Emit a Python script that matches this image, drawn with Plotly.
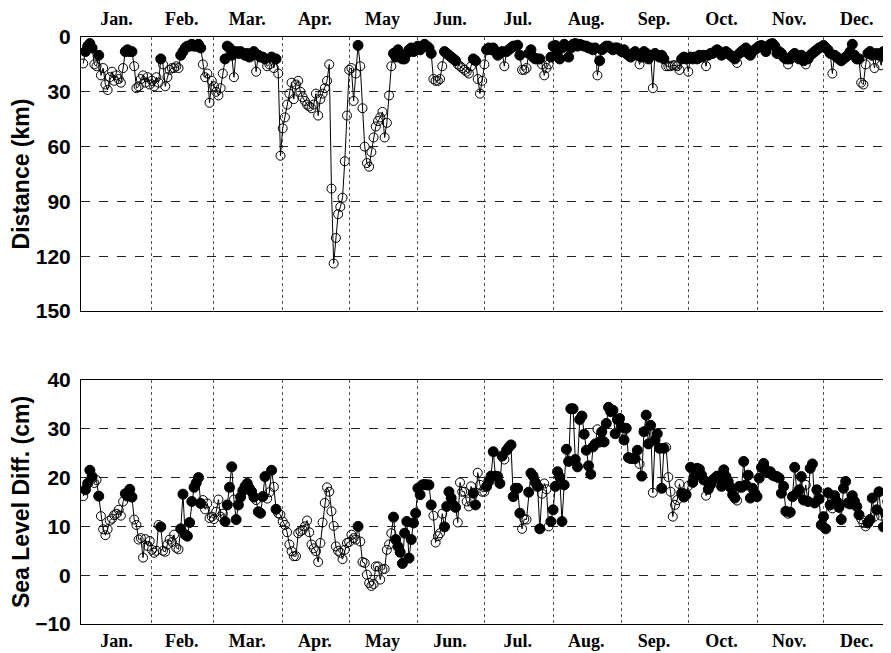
import plotly.graph_objects as go

# ---------------- data (day-of-year 1..365) ----------------
months = ["Jan.", "Feb.", "Mar.", "Apr.", "May", "Jun.",
          "Jul.", "Aug.", "Sep.", "Oct.", "Nov.", "Dec."]
month_lengths = [31, 28, 31, 30, 31, 30, 31, 31, 30, 31, 30, 31]

# Distance (km), one value per day, by month
dist_jan = [14.5, 8, 5, 3.6, 6, 15, 16, 10, 21, 17, 26, 29, 22, 19, 24, 21, 23, 25, 17, 8,
            7, 8, 8, 16, 28, 27, 23, 21, 25, 22, 26]
dist_feb = [24, 27, 22, 25, 12, 15, 27, 22, 18, 17, 17, 16, 17, 10, 8, 6, 5, 5, 4, 5,
            5, 4, 6, 15, 22, 20, 36, 24]
dist_mar = [27, 30, 32, 28, 20, 12, 5, 6, 10, 22, 8, 9, 8, 9, 10, 9, 11, 10, 8, 19,
            10, 11, 11, 12, 16, 15, 11, 17, 12, 20, 65]
dist_apr = [50, 44, 37, 31, 25, 34, 26, 24, 30, 33, 35, 37, 38, 39, 37, 31, 43, 34, 31, 28,
            24, 15, 83, 124, 110, 97, 93, 88, 68, 43]
dist_may = [18, 17, 35, 20, 4.6, 16, 39, 60, 69, 71, 63, 55, 49, 46, 44, 41, 55, 47, 32, 16,
            9, 11, 7, 10, 12, 12, 9, 7, 6, 8, 6]
dist_jun = [5, 7, 5, 4, 5, 6, 9, 23, 24, 24, 23, 16, 8, 9, 10, 11, 12, 13, 15, 16,
            17, 18, 19, 20, 16, 12, 13, 23, 31, 24]
dist_jul = [15, 7, 6, 7, 6, 8, 10, 9, 8, 16, 8, 7, 6, 5, 5, 4.5, 10, 18, 18, 17,
            9, 7, 11, 12, 12, 12, 15, 21, 17, 15, 11]
dist_aug = [5, 4.6, 8, 12, 6, 4, 5, 11, 6, 4, 3.6, 5, 4, 4.5, 5, 5, 6, 6, 7, 6,
            21, 13, 7, 6, 5, 5, 6, 7, 6, 6, 7]
dist_sep = [8, 7, 9, 10, 11, 9, 8, 10, 15, 11, 8, 9, 12, 10, 28, 9, 10, 11, 10, 12,
            16, 16, 16, 15.5, 15.5, 16, 18, 12, 11, 12]
dist_oct = [19, 11, 12, 11, 12, 10, 11, 10, 16, 10, 9, 9, 8, 7, 8, 10, 9, 8, 9, 10,
            11, 12, 14.2, 9, 8, 7, 6, 9, 10, 8, 7]
dist_nov = [6, 5, 4.6, 6, 8, 5, 4, 3.6, 5, 9, 8, 9, 11, 12, 15, 12, 10, 9, 11, 12,
            10, 13, 15, 12, 10, 9, 8, 7, 6, 5.5]
dist_dec = [4.6, 6, 7, 9, 20, 10, 11, 12, 13, 12, 11, 10, 8, 4, 10, 12, 12, 25, 26, 15,
            9, 8, 10, 17, 9, 10, 15.5, 8, 11, 9, 10]

# Sea level difference (cm), one value per day, by month
sea_jan = [16.2, 17.5, 18.8, 21.5, 20.2, 18.9, 19.5, 16.2, 12.1, 9.4, 8.2, 9.4, 11.2, 11.6, 12.3,
           12.6, 13.4, 12.2, 15.1, 16.7, 16.2, 17.6, 16.0, 11.4, 10.3, 7.3, 7.6, 3.6, 7.4, 6.0, 7.0]
sea_feb = [5.2, 4.6, 5.0, 10.3, 9.9, 5.0, 4.8, 6.3, 7.3, 6.8, 8.3, 5.6, 5.3, 9.5, 16.6,
           8.3, 8.0, 10.8, 15.1, 18.0, 18.9, 20.0, 14.7, 15.4, 13.5, 14.7, 11.7, 12.0]
sea_mar = [11.5, 13.0, 15.5, 12.0, 12.6, 11.0, 14.4, 18.0, 22.2, 15.5, 11.4, 14.4, 16.0, 17.3, 18.2,
           18.8, 17.8, 17.1, 16.0, 15.4, 13.0, 12.7, 16.1, 20.2, 15.7, 17.0, 21.5, 18.1, 13.5, 12.7, 12.4]
sea_apr = [11.0, 10.3, 8.8, 6.3, 4.9, 3.9, 3.9, 8.6, 9.0, 9.3, 10.0, 11.2, 8.8, 6.3, 5.5,
           4.9, 2.7, 6.6, 10.8, 14.8, 18.0, 17.1, 13.1, 10.1, 5.9, 5.0, 4.6, 3.3, 5.2, 6.6]
sea_may = [6.8, 8.3, 7.6, 7.3, 10.0, 6.9, 2.7, 2.5, 0.1, -1.6, -2.2, -1.8, 1.8, 1.8, -0.9,
           1.2, 1.3, 5.2, 6.3, 8.6, 11.9, 7.3, 5.9, 4.7, 2.4, 8.6, 11.0, 3.5, 7.3, 10.7, 12.7]
sea_jun = [17.8, 16.5, 18.5, 18.6, 18.5, 18.5, 14.4, 12.2, 6.7, 8.0, 8.6, 12.6, 9.9, 14.1, 17.1,
           15.8, 14.4, 13.9, 10.8, 19.0, 17.1, 17.1, 15.1, 14.1, 18.2, 16.8, 14.4, 21.0, 18.5, 17.1]
sea_jul = [17.1, 18.2, 19.2, 20.3, 25.3, 20.3, 20.2, 18.8, 24.4, 23.7, 25.6, 26.2, 26.7, 16.1, 17.8,
           17.8, 12.7, 9.5, 11.5, 11.4, 17.0, 20.9, 20.3, 19.0, 18.2, 9.5, 16.7, 18.8, 17.6, 10.0, 11.0]
sea_aug = [13.4, 18.2, 21.2, 20.1, 11.0, 18.5, 25.8, 23.3, 34.1, 34.1, 23.7, 22.2, 31.9, 32.6, 28.9,
           25.6, 22.4, 20.7, 26.3, 26.9, 29.9, 27.3, 29.4, 27.3, 31.1, 34.4, 33.5, 33.8, 29.0, 31.9, 32.1]
sea_sep = [30.3, 27.7, 30.1, 24.1, 23.9, 23.9, 23.9, 25.6, 22.8, 20.3, 29.4, 32.8, 26.9, 30.7, 16.9,
           27.7, 29.0, 26.0, 17.8, 26.0, 26.2, 20.1, 17.1, 12.0, 14.4, 15.4, 18.7, 16.8, 16.0, 16.5]
sea_oct = [18.3, 22.1, 19.0, 20.3, 21.9, 21.7, 20.5, 19.5, 16.3, 17.6, 18.5, 19.5, 19.9, 20.3, 19.9,
           18.2, 21.6, 20.2, 19.2, 18.0, 16.5, 15.8, 15.3, 18.2, 18.0, 23.3, 18.5, 20.5, 15.8, 17.8, 16.8]
sea_nov = [16.1, 19.9, 22.1, 22.9, 21.6, 21.0, 21.2, 20.5, 20.3, 20.2, 19.9, 16.8, 18.2, 13.1, 12.6,
           12.9, 16.1, 22.1, 16.8, 17.5, 20.2, 15.4, 18.5, 15.1, 21.9, 22.8, 14.8, 17.5, 15.6, 10.3]
sea_dec = [12.0, 9.5, 16.9, 14.4, 13.7, 16.3, 15.1, 13.9, 11.4, 17.8, 19.2, 14.8, 14.6, 16.3, 15.1,
           14.1, 12.4, 11.5, 10.7, 10.0, 10.7, 11.4, 15.8, 12.0, 13.4, 17.1, 12.2, 9.9, 12.7, 15.1, 14.0]

distance = (dist_jan + dist_feb + dist_mar + dist_apr + dist_may + dist_jun +
            dist_jul + dist_aug + dist_sep + dist_oct + dist_nov + dist_dec)
sea_level = (sea_jan + sea_feb + sea_mar + sea_apr + sea_may + sea_jun +
             sea_jul + sea_aug + sea_sep + sea_oct + sea_nov + sea_dec)
days = list(range(1, len(distance) + 1))

dist_ticks = [0, 30, 60, 90, 120, 150]
sea_ticks = [-10, 0, 10, 20, 30, 40]

# month boundaries and mid-month label positions
starts = []
s = 1
for n in month_lengths:
    starts.append(s)
    s += n
bounds = starts[1:]
mids = [st + n / 2 - 0.5 for st, n in zip(starts, month_lengths)]

# filled marker when the distance is small (near), open otherwise
near = [d < 14 for d in distance]
symbols = ["circle" if f else "circle-open" for f in near]
sizes = [10 if f else 9 for f in near]

# ---------------- figure ----------------
marker = dict(symbol=symbols, size=sizes, color="black", opacity=1,
              line=dict(color="black", width=1))

fig = go.Figure()
fig.add_trace(go.Scatter(x=days, y=distance, mode="lines+markers",
                         line=dict(color="black", width=1), marker=marker,
                         xaxis="x", yaxis="y", showlegend=False, cliponaxis=True))
fig.add_trace(go.Scatter(x=days, y=sea_level, mode="lines+markers",
                         line=dict(color="black", width=1), marker=marker,
                         xaxis="x2", yaxis="y2", showlegend=False, cliponaxis=True))

month_font = dict(family="Liberation Serif", size=18, color="black", weight="bold")
tick_font = dict(family="Liberation Sans", size=21, color="black", weight="bold")
title_font = dict(family="Liberation Sans", size=23, color="black", weight="bold")

common_x = dict(range=[0, 365], tickmode="array", tickvals=mids, ticktext=months,
                showgrid=False, zeroline=False, ticks="", tickfont=month_font,
                automargin=False,
                showline=True, mirror=True, linecolor="black", linewidth=1,
                minor=dict(tickmode="array", tickvals=bounds, showgrid=True,
                           griddash="dot", gridcolor="#555555", gridwidth=1, ticks=""))
common_y = dict(tickmode="array", showgrid=True, griddash="dash", gridcolor="#222222",
                gridwidth=1, zeroline=False, ticks="", tickfont=tick_font,
                automargin=False,
                showline=True, mirror=True, linecolor="black", linewidth=1,
                ticklabelstandoff=5)

# the page body adds an 8 px offset, so the figure is sized to fit the window
fig.update_layout(
    width=883, height=645,
    margin=dict(l=73, r=1, t=29, b=29),
    paper_bgcolor="white", plot_bgcolor="white",
    xaxis=dict(common_x, domain=[0, 1], anchor="y", side="top", ticklabelstandoff=4),
    yaxis=dict(common_y, domain=[0.5332, 1], range=[150, 0], tickvals=dist_ticks,
               title=dict(text="Distance (km)", font=title_font, standoff=0)),
    xaxis2=dict(common_x, domain=[0, 1], anchor="y2", side="bottom", ticklabelstandoff=0),
    yaxis2=dict(common_y, domain=[0, 0.4157], range=[-10, 40], tickvals=sea_ticks,
                title=dict(text="Sea Level Diff. (cm)", font=title_font, standoff=0)),
)

fig.write_html("out.html")
